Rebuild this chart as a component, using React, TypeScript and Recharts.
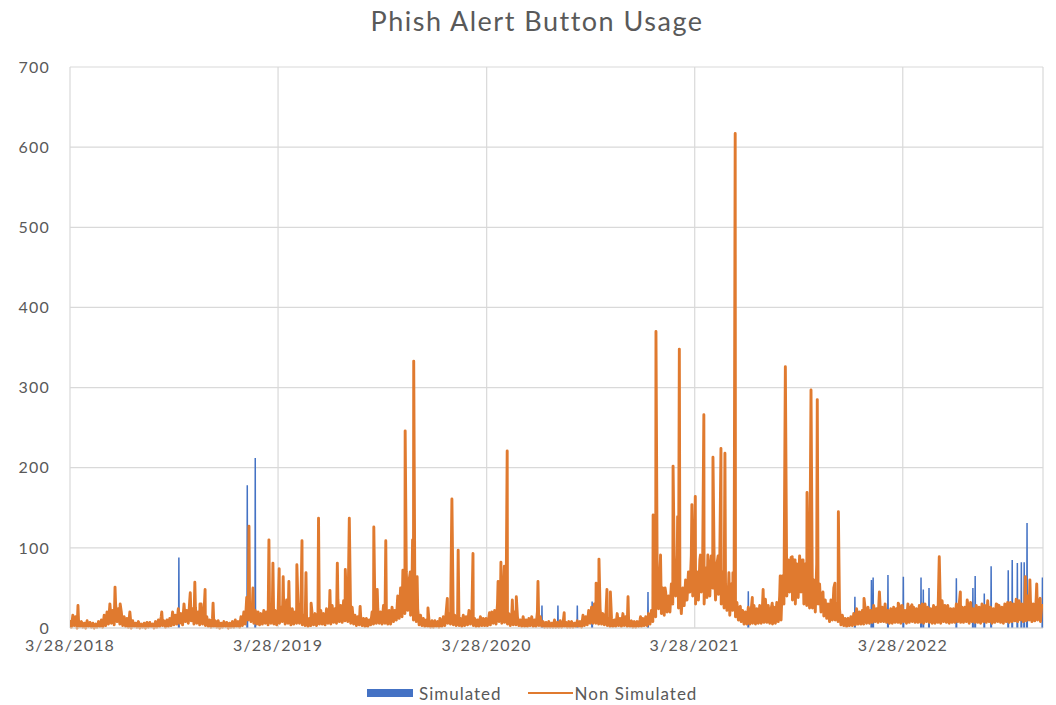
import { ComposedChart, Line, XAxis, YAxis, CartesianGrid } from "recharts";

// x values are days counted from 3/28/2018
const yearTicks = [0, 365, 731, 1096, 1461];
const yearLabels = ["3/28/2018", "3/28/2019", "3/28/2020", "3/28/2021", "3/28/2022"];
const lastDay = 1707;
const countTicks = [0, 100, 200, 300, 400, 500, 600, 700];

// Non Simulated weekday level, one reading every 5 days (days 0, 5, 10 ...)
const baseStep = 5;
const nonSimHigh = [
  10, 16, 14, 9, 8, 6, 9, 7, 6, 5,
  8, 10, 16, 20, 26, 22, 30, 24, 20, 14,
  12, 8, 9, 6, 8, 5, 6, 7, 7, 5,
  8, 10, 14, 9, 10, 12, 20, 16, 24, 18,
  30, 22, 34, 24, 26, 20, 30, 18, 14, 10,
  12, 9, 9, 6, 8, 7, 6, 8, 10, 8,
  14, 20, 38, 30, 28, 22, 20, 18, 22, 20,
  30, 24, 22, 20, 26, 22, 35, 26, 24, 20,
  30, 22, 16, 14, 12, 16, 18, 14, 22, 18,
  24, 20, 28, 24, 36, 28, 34, 30, 40, 26,
  16, 14, 14, 12, 12, 10, 20, 18, 24, 20,
  28, 24, 22, 26, 34, 40, 50, 45, 70, 60,
  55, 40, 24, 16, 12, 10, 8, 9, 9, 8,
  10, 14, 20, 18, 22, 16, 14, 12, 12, 14,
  22, 16, 12, 10, 14, 12, 12, 14, 20, 22,
  30, 26, 34, 24, 18, 16, 20, 14, 10, 10,
  10, 12, 14, 10, 20, 14, 8, 7, 8, 6,
  10, 7, 9, 6, 7, 8, 8, 6, 9, 8,
  10, 14, 22, 26, 30, 24, 24, 18, 14, 12,
  12, 10, 10, 12, 18, 14, 10, 9, 8, 8,
  10, 12, 14, 18, 22, 40, 85, 60, 50, 45,
  40, 55, 90, 60, 45, 50, 60, 70, 90, 75,
  70, 85, 90, 75, 80, 90, 88, 80, 90, 70,
  55, 45, 55, 35, 32, 26, 22, 20, 26, 22,
  28, 24, 28, 30, 36, 28, 24, 26, 32, 40,
  65, 80, 85, 88, 85, 80, 90, 85, 80, 70,
  70, 60, 80, 55, 40, 35, 30, 35, 50, 30,
  24, 16, 12, 12, 14, 18, 24, 20, 22, 24,
  26, 22, 28, 24, 30, 26, 30, 22, 24, 26,
  24, 28, 28, 22, 30, 26, 26, 24, 28, 30,
  30, 26, 24, 28, 26, 22, 34, 28, 28, 24,
  24, 30, 30, 26, 26, 30, 32, 24, 28, 26,
  30, 28, 34, 26, 24, 30, 28, 26, 30, 32,
  32, 30, 36, 34, 30, 28, 40, 34, 30, 36, 32, 30,
];

// Non Simulated weekend dips, halfway between the readings above (days 2.5, 7.5 ...)
const nonSimLow = [
  1, 3, 0, 2, 1, 0, 2, 1, 0, 1,
  2, 1, 3, 5, 6, 4, 8, 5, 3, 2,
  1, 0, 2, 1, 0, 1, 0, 1, 2, 0,
  1, 2, 3, 1, 2, 3, 4, 5, 6, 4,
  8, 6, 9, 5, 6, 4, 5, 3, 2, 1,
  2, 1, 0, 1, 2, 0, 1, 1, 2, 1,
  3, 5, 10, 8, 6, 5, 4, 5, 6, 4,
  6, 5, 4, 6, 8, 5, 6, 4, 5, 6,
  6, 4, 3, 2, 3, 4, 3, 5, 5, 4,
  6, 5, 7, 6, 8, 7, 9, 8, 6, 5,
  3, 4, 3, 2, 2, 4, 5, 6, 6, 5,
  6, 5, 5, 8, 10, 12, 14, 18, 22, 16,
  10, 8, 4, 3, 2, 2, 1, 1, 2, 1,
  2, 3, 6, 5, 4, 3, 3, 2, 3, 4,
  5, 3, 2, 2, 3, 3, 3, 4, 6, 5,
  8, 6, 7, 5, 3, 4, 4, 3, 2, 2,
  2, 3, 2, 2, 3, 2, 1, 1, 1, 1,
  1, 1, 1, 2, 1, 1, 1, 2, 2, 1,
  3, 4, 6, 6, 6, 5, 5, 4, 3, 2,
  2, 2, 3, 2, 3, 2, 2, 1, 1, 2,
  2, 3, 3, 5, 8, 14, 24, 18, 16, 20,
  20, 30, 40, 25, 18, 28, 35, 45, 40, 30,
  35, 45, 30, 38, 40, 50, 35, 42, 30, 25,
  22, 16, 22, 14, 10, 8, 5, 5, 5, 6,
  5, 6, 6, 7, 7, 6, 5, 6, 8, 10,
  30, 40, 45, 35, 30, 38, 45, 30, 28, 25,
  25, 20, 30, 20, 15, 12, 8, 10, 10, 8,
  4, 3, 2, 3, 3, 4, 5, 5, 5, 6,
  6, 7, 8, 7, 8, 8, 7, 6, 6, 7,
  7, 6, 8, 6, 7, 8, 7, 7, 7, 6,
  8, 7, 6, 6, 7, 6, 8, 7, 6, 7,
  7, 8, 7, 7, 8, 6, 8, 7, 7, 6,
  8, 7, 8, 6, 7, 8, 7, 6, 8, 7,
  8, 9, 8, 10, 8, 9, 10, 8, 9, 10, 8,
];

// Non Simulated peaks: [day, reports]
const nonSimPeaks = [
  [14, 28], [70, 30], [79, 51], [88, 30], [105, 20], [161, 20], [211, 44], [219, 57],
  [228, 30], [237, 48], [251, 31],
  [314, 127], [321, 50], [349, 110], [356, 81], [367, 74], [374, 64], [384, 58],
  [398, 79], [407, 109], [414, 69], [423, 31], [436, 137], [456, 47], [469, 81],
  [483, 73], [490, 137], [509, 27], [533, 126], [539, 48], [554, 109], [570, 22],
  [584, 72], [588, 246], [597, 70], [601, 110], [603, 333], [609, 64], [628, 25],
  [649, 12], [662, 37], [670, 161], [681, 97], [690, 16], [707, 93], [736, 19],
  [751, 58], [756, 82], [762, 77], [767, 221], [776, 35], [783, 39], [795, 14],
  [821, 58], [867, 19], [900, 16], [923, 56], [928, 86], [942, 48], [948, 45],
  [960, 18], [979, 39], [1001, 14],
  [1023, 141], [1028, 370], [1036, 91], [1044, 50], [1049, 35], [1058, 202],
  [1066, 139], [1069, 348], [1081, 35], [1091, 154], [1097, 164], [1106, 91],
  [1112, 266], [1119, 91], [1128, 213], [1137, 90], [1142, 224], [1149, 218],
  [1156, 69], [1163, 69], [1167, 617], [1176, 27], [1197, 38], [1216, 48],
  [1232, 31], [1246, 65], [1255, 326], [1267, 89], [1272, 85], [1286, 85],
  [1293, 169], [1300, 297], [1311, 285], [1321, 45], [1328, 19], [1342, 56],
  [1348, 145], [1363, 10], [1393, 37], [1420, 45], [1453, 31], [1477, 29],
  [1525, 89], [1539, 18], [1562, 45], [1574, 35], [1627, 29], [1676, 64],
  [1684, 60], [1696, 55], [1702, 37],
];

// Simulated campaign days: [day, reports]
const simPeaks = [
  [191, 88], [311, 178], [325, 212], [828, 28], [856, 28], [890, 28], [916, 33],
  [1014, 45], [1190, 46], [1377, 39], [1406, 60], [1409, 63], [1435, 66],
  [1462, 64], [1493, 63], [1497, 48], [1507, 50], [1555, 62], [1584, 50],
  [1588, 65], [1604, 43], [1616, 77], [1646, 72], [1653, 85], [1662, 81],
  [1669, 82], [1674, 82], [1679, 131], [1706, 63],
];

const byDay = new Map<number, number>();
nonSimHigh.forEach((v, i) => byDay.set(i * baseStep, v));
nonSimLow.forEach((v, i) => byDay.set(i * baseStep + baseStep / 2, v));
nonSimPeaks.forEach(([d, v]) => byDay.set(d, v));
const nonSimData = [...byDay.entries()]
  .sort((a, b) => a[0] - b[0])
  .map(([day, value]) => ({ day, value }));

// each campaign drawn as a thin spike from zero, separated by gaps
const simData = simPeaks.flatMap(([d, v]) => [
  { day: d - 0.5, sim: 0 },
  { day: d, sim: v },
  { day: d + 0.5, sim: 0 },
  { day: d + 0.6, sim: null },
]);

const BLUE = "#4472C4";
const ORANGE = "#E07A2F";
const TEXT = "#595959";
const FONT = "Lato, 'Open Sans', sans-serif";

const tickStyle = { fill: TEXT, fontSize: 16, fontFamily: FONT, letterSpacing: 1.2 };

export default function App() {
  return (
    <div style={{ position: "relative", width: 1040, height: 697, fontFamily: FONT }}>
      <div
        style={{
          position: "absolute",
          left: 529,
          top: -3,
          transform: "translateX(-50%)",
          whiteSpace: "nowrap",
          fontSize: 27,
          lineHeight: "32px",
          letterSpacing: 1.5,
          color: TEXT,
        }}
      >
        Phish Alert Button Usage
      </div>

      <ComposedChart width={1040} height={690} margin={{ top: 59, right: 5, left: 0, bottom: 40 }}>
        <CartesianGrid stroke="#D9D9D9" strokeWidth={1.2} />
        <XAxis
          dataKey="day"
          type="number"
          domain={[0, lastDay]}
          ticks={yearTicks}
          tickFormatter={(d: number) => yearLabels[yearTicks.indexOf(d)]}
          allowDataOverflow
          height={30}
          tickSize={0}
          tickMargin={12}
          axisLine={{ stroke: "#D9D9D9" }}
          tick={tickStyle}
          interval={0}
        />
        <YAxis
          type="number"
          domain={[0, 700]}
          ticks={countTicks}
          width={62}
          tickSize={0}
          tickMargin={20}
          axisLine={false}
          tick={tickStyle}
          interval={0}
        />
        <Line
          data={simData}
          dataKey="sim"
          stroke={BLUE}
          strokeWidth={1.5}
          dot={false}
          activeDot={false}
          isAnimationActive={false}
          connectNulls={false}
        />
        <Line
          data={nonSimData}
          dataKey="value"
          stroke={ORANGE}
          strokeWidth={2.9}
          strokeLinejoin="round"
          dot={false}
          activeDot={false}
          isAnimationActive={false}
        />
      </ComposedChart>

      <div
        style={{
          position: "absolute",
          left: 359,
          top: 674,
          height: 22,
          display: "flex",
          alignItems: "center",
          fontSize: 17,
          letterSpacing: 1,
          color: TEXT,
          whiteSpace: "nowrap",
        }}
      >
        <span style={{ width: 46, height: 8, background: BLUE, marginRight: 6 }} />
        <span>Simulated</span>
        <span style={{ width: 45, height: 2.5, background: ORANGE, marginLeft: 26, marginRight: 2 }} />
        <span>Non Simulated</span>
      </div>
    </div>
  );
}
